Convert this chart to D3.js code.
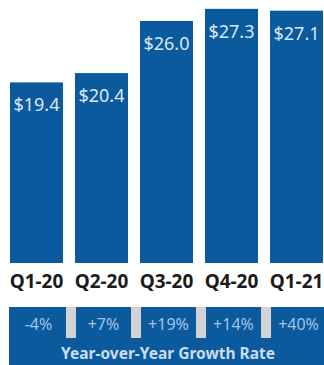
<!DOCTYPE html>
<html>
<head>
<meta charset="utf-8">
<script src="https://cdn.jsdelivr.net/npm/d3@7"></script>
<style>
  body { margin: 0; background: #fff; }
  svg { display: block; }
</style>
</head>
<body>
<div id="chart"></div>
<script>
// quarterly values, $
const quarters = ["Q1-20", "Q2-20", "Q3-20", "Q4-20", "Q1-21"];
const revenue = [19.4, 20.4, 26.0, 27.3, 27.1];
const growth = ["-4%", "+7%", "+19%", "+14%", "+40%"];
const bandTitle = "Year-over-Year Growth Rate";

const width = 324, height = 365;
const blue = "#0b5a9d";

const svg = d3.select("#chart").append("svg")
    .attr("width", width)
    .attr("height", height);

const x = d3.scaleBand()
    .domain(quarters)
    .range([10, 323])
    .paddingInner(0.185)
    .paddingOuter(0);

const y = d3.scaleLinear()
    .domain([0, 28.25])
    .range([263, 0]);

// bars
svg.append("g")
    .selectAll("rect")
    .data(revenue)
    .join("rect")
    .attr("x", (d, i) => x(quarters[i]))
    .attr("y", d => y(d))
    .attr("width", x.bandwidth())
    .attr("height", d => y(0) - y(d))
    .attr("fill", blue);

// value labels inside the bars
svg.append("g")
    .selectAll("text")
    .data(revenue)
    .join("text")
    .attr("x", (d, i) => x(quarters[i]) + x.bandwidth() / 2)
    .attr("y", d => y(d) + 29)
    .attr("text-anchor", "middle")
    .attr("font-family", "'Noto Sans', sans-serif")
    .attr("font-size", "18px")
    .attr("fill", "#dbe7f3")
    .text(d => "$" + d.toFixed(1));

// quarter labels (axis without line/ticks)
const xAxis = svg.append("g")
    .attr("transform", "translate(0,270)")
    .call(d3.axisBottom(x).tickSize(0).tickPadding(0));
xAxis.select(".domain").remove();
xAxis.selectAll("text")
    .attr("dy", "18px")
    .attr("font-family", "'Noto Sans', sans-serif")
    .attr("font-weight", "bold")
    .attr("font-size", "19px")
    .attr("fill", "#1b1b1b");

// growth band at the bottom
const bandTop = 307;
svg.append("rect")
    .attr("x", 9)
    .attr("y", bandTop)
    .attr("width", width - 9)
    .attr("height", height - bandTop)
    .attr("fill", blue);

svg.append("g")
    .selectAll("rect")
    .data(quarters.slice(1))
    .join("rect")
    .attr("x", d => x(d) - 9)
    .attr("y", bandTop)
    .attr("width", 10)
    .attr("height", 31)
    .attr("fill", "#d3d3d5");

svg.append("g")
    .selectAll("text")
    .data(growth)
    .join("text")
    .attr("x", (d, i) => x(quarters[i]) + x.bandwidth() / 2 + 2)
    .attr("y", 330)
    .attr("text-anchor", "middle")
    .attr("font-family", "'Noto Sans', sans-serif")
    .attr("font-size", "16px")
    .attr("fill", "#a3c4e6")
    .text(d => d);

svg.append("text")
    .attr("x", 168)
    .attr("y", 359)
    .attr("text-anchor", "middle")
    .attr("font-family", "'Noto Sans', sans-serif")
    .attr("font-weight", "bold")
    .attr("font-size", "15.5px")
    .attr("fill", "#cadcef")
    .text(bandTitle);
</script>
</body>
</html>
